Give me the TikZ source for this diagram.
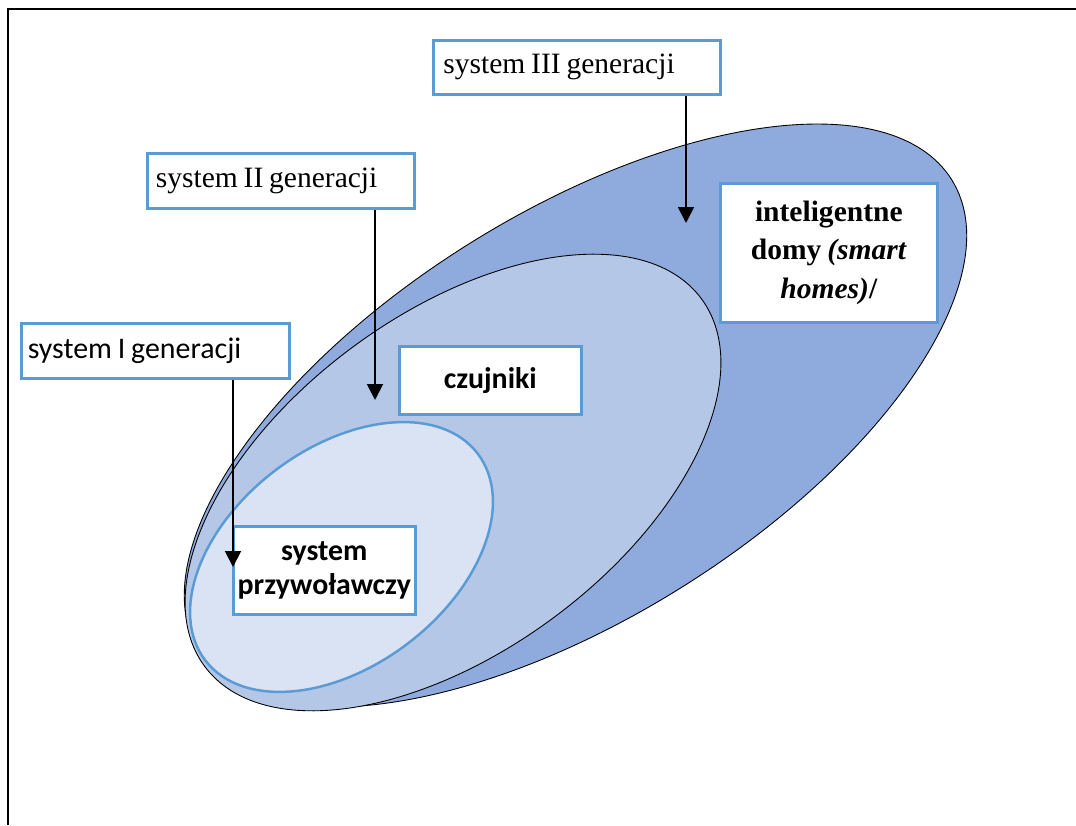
\documentclass[tikz,border=0pt]{standalone}
\usepackage{fontspec}
\setmainfont{Liberation Serif}
\newfontfamily\calibri{Carlito}
\usepackage{xcolor}
\usepackage{tikz}
\usetikzlibrary{arrows.meta}

\definecolor{outerblue}{HTML}{8FAADC}
\definecolor{midblue}{HTML}{B4C7E7}
\definecolor{innerblue}{HTML}{DAE3F3}
\definecolor{edgeblue}{HTML}{5B9BD5}

\tikzset{
  genbox/.style={draw=edgeblue, line width=1.5pt, fill=white, anchor=north west, inner sep=0pt},
  genarrow/.style={line width=1.1pt, -{Triangle[width=9pt,length=9pt]}}
}

\begin{document}
\begin{tikzpicture}
                \useasboundingbox (0,0) rectangle (21.52,16.5);
                \draw[line width=1.6pt] (0.16,0) -- (0.16,16.32) -- (21.52,16.32);

                % ellipses
                \draw[fill=outerblue, line width=0.5pt, rotate around={32.1:(11.51,8.19)}] (11.51,8.19) ellipse (8.88 and 4.04);
                \draw[fill=midblue, line width=0.5pt, rotate around={36.5:(9.06,6.85)}] (9.06,6.85) ellipse (6.18 and 3.37);
                \draw[fill=innerblue, draw=edgeblue, line width=1.4pt, rotate around={37.1:(6.83,5.36)}] (6.83,5.36) ellipse (3.42 and 2.18);

                % boxes
                \node[genbox, minimum width=5.74cm, minimum height=1.08cm, text width=5.34cm, align=left] (gen3) at (8.64,15.72) {\fontsize{16.8}{20}\selectfont system III generacji};
                \node[genbox, minimum width=5.34cm, minimum height=1.10cm, text width=5.0cm, align=left] (gen2) at (2.92,13.46) {\fontsize{16.8}{20}\selectfont system II generacji};
                \node[genbox, minimum width=5.36cm, minimum height=1.10cm, text width=5.1cm, align=left] (gen1) at (0.40,10.06) {\calibri\fontsize{17}{20}\selectfont system I generacji};
                \node[genbox, minimum width=3.64cm, minimum height=1.36cm, text width=3.64cm, align=center] (czujniki) at (7.96,9.60) {\calibri\bfseries\fontsize{17}{20}\selectfont czujniki};
                \node[genbox, minimum width=3.64cm, minimum height=1.76cm, text width=3.64cm, align=center] (przyw) at (4.64,6.00) {\calibri\bfseries\fontsize{17}{19.5}\selectfont system\\przywoławczy\par};
                \node[genbox, minimum width=4.34cm, minimum height=2.78cm, text width=4.34cm, align=center] (smart) at (14.38,12.86) {\bfseries\fontsize{16.8}{22}\selectfont inteligentne\\domy \textit{(smart}\\\textit{homes)}/\par};

                % arrows
                \coordinate (tip3) at (13.72,12.04);
                \coordinate (tip2) at (7.50,8.50);
                \coordinate (tip1) at (4.66,5.16);
                \draw[genarrow] (gen3.south -| tip3) -- (tip3);
                \draw[genarrow] (gen2.south -| tip2) -- (tip2);
                \draw[genarrow] (gen1.south -| tip1) -- (tip1);
            \end{tikzpicture}
\end{document}
